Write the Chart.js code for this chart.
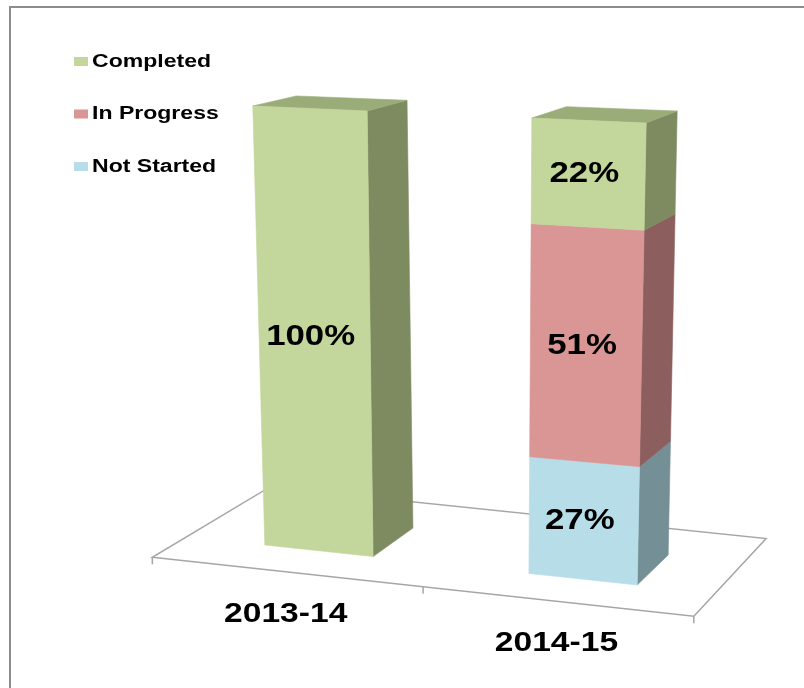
<!DOCTYPE html>
<html>
<head>
<meta charset="utf-8">
<title>Status by year</title>
<script src="https://cdn.jsdelivr.net/npm/chart.js@4.4.1/dist/chart.umd.min.js"></script>
<style>
    html, body { margin: 0; padding: 0; background: #fff; }
    #wrap { position: relative; width: 804px; height: 688px; }
</style>
</head>
<body>
<div id="wrap"><canvas id="myChart"></canvas></div>
<script>
/* data
 -----------------------------------------------*/
const categories = ['2013-14', '2014-15'];
const completed = [100, 22];
const inProgress = [0, 51];
const notStarted = [0, 27];

/* colours: front / side / top face of each box
 -----------------------------------------------*/
const faces = {
    'Completed':   ['#c3d69b', '#7e8b61', '#9aad78'],
    'In Progress': ['#d99694', '#8c5f5e', '#aa7776'],
    'Not Started': ['#b7dee8', '#758f96', '#8fb0b8']
};
const textStretch = 1.2;   // the original text is a little wide
const clear = 'rgba(0,0,0,0)';

// map a point of the flat chart (px, py) and a depth w (0 front, 1 back) to the slanted 3d view
function project(chart, px, py, w) {
    let area = chart.chartArea;
    let yScale = chart.scales.y;
    let yTop = yScale.getPixelForValue(yScale.max);
    let yBot = yScale.getPixelForValue(yScale.min);
    let s = (px - area.left) / area.width;
    let t = (py - yTop) / (yBot - yTop);
    t = t + 0.07 * t * (1 - t);

    let topX = 170.5 + 558 * s, topY = 102.4 + 24.2 * s;
    let botX = 186.9 + 528.2 * s, botY = 536.6 + 56.8 * s;
    let fx = topX + (botX - topX) * t;
    let fy = topY + (botY - topY) * t;
    let dx = 46.1 - 17.75 * s;
    let dy = -9.6 - 18 * t - 2.84 * s;
    return [fx + w * dx, fy + w * dy];
}

function quad(ctx, pts, color) {
    ctx.beginPath();
    ctx.moveTo(pts[0][0], pts[0][1]);
    for (let i = 1; i < pts.length; i++) {
        ctx.lineTo(pts[i][0], pts[i][1]);
    }
    ctx.closePath();
    ctx.fillStyle = color;
    ctx.fill();
    ctx.strokeStyle = color;
    ctx.lineWidth = 0.6;
    ctx.stroke();
}

function wideText(ctx, text, x, y, sx) {
    ctx.save();
    ctx.translate(x, y);
    ctx.scale(sx, 1);
    ctx.fillText(text, 0, 0);
    ctx.restore();
}

const box3d = {
    id: 'box3d',
    beforeDraw(chart) {
        let ctx = chart.ctx;
        ctx.save();
        // outer frame of the chart
        ctx.strokeStyle = '#8c8c8c';
        ctx.lineWidth = 2;
        ctx.strokeRect(10, 7, 900, 900);
        ctx.restore();
    },
    afterDatasetsDraw(chart) {
        let ctx = chart.ctx;
        let area = chart.chartArea;
        let xScale = chart.scales.x;
        let yBot = chart.scales.y.getPixelForValue(0);
        let wFront = -0.75, wBack = 1.8;

        ctx.save();

        // floor
        let f1 = project(chart, area.left, yBot, wFront);
        let f2 = project(chart, area.right, yBot, wFront);
        let f3 = project(chart, area.right, yBot, wBack);
        let f4 = project(chart, area.left, yBot, wBack);
        ctx.strokeStyle = '#a6a6a6';
        ctx.lineWidth = 1.5;
        ctx.beginPath();
        ctx.moveTo(f1[0], f1[1]);
        ctx.lineTo(f2[0], f2[1]);
        ctx.lineTo(f3[0], f3[1]);
        ctx.lineTo(f4[0], f4[1]);
        ctx.closePath();
        ctx.stroke();

        // ticks between the categories
        let mid = (xScale.getPixelForValue(0) + xScale.getPixelForValue(1)) / 2;
        [area.left, mid, area.right].forEach(function (px) {
            let p = project(chart, px, yBot, wFront);
            ctx.beginPath();
            ctx.moveTo(p[0], p[1]);
            ctx.lineTo(p[0], p[1] + 7);
            ctx.stroke();
        });

        // boxes, bottom segment first
        let sets = chart.data.datasets;
        for (let j = 0; j < categories.length; j++) {
            let topIdx = -1;
            for (let i = 0; i < sets.length; i++) {
                if (sets[i].data[j] > 0) topIdx = i;
            }
            for (let i = 0; i < sets.length; i++) {
                if (!(sets[i].data[j] > 0)) continue;
                let el = chart.getDatasetMeta(i).data[j];
                let l = el.x - el.width / 2, r = el.x + el.width / 2;
                let top = el.y, bot = el.base;
                let col = faces[sets[i].label];

                quad(ctx, [project(chart, r, top, 0), project(chart, r, top, 1),
                    project(chart, r, bot, 1), project(chart, r, bot, 0)], col[1]);
                if (i === topIdx) {
                    quad(ctx, [project(chart, l, top, 0), project(chart, r, top, 0),
                        project(chart, r, top, 1), project(chart, l, top, 1)], col[2]);
                }
                quad(ctx, [project(chart, l, top, 0), project(chart, r, top, 0),
                    project(chart, r, bot, 0), project(chart, l, bot, 0)], col[0]);
            }
        }

        // value labels
        ctx.fillStyle = '#000';
        ctx.textAlign = 'center';
        ctx.textBaseline = 'middle';
        ctx.font = 'bold 29px "Liberation Sans", Arial, sans-serif';
        for (let i = 0; i < sets.length; i++) {
            for (let j = 0; j < categories.length; j++) {
                let v = sets[i].data[j];
                if (!(v > 0)) continue;
                let el = chart.getDatasetMeta(i).data[j];
                let p = project(chart, el.x, (el.y + el.base) / 2, 0);
                wideText(ctx, v + '%', p[0] - 4, p[1], textStretch);
            }
        }

        // category labels under the floor
        ctx.font = 'bold 28px "Liberation Sans", Arial, sans-serif';
        for (let j = 0; j < categories.length; j++) {
            let p = project(chart, xScale.getPixelForValue(j), yBot, wFront);
            wideText(ctx, xScale.getLabelForValue(j), p[0] - 2, p[1] + 42, textStretch);
        }

        // legend, top series first
        ctx.font = 'bold 18px "Liberation Sans", Arial, sans-serif';
        ctx.textAlign = 'left';
        let ly = 61;
        for (let i = sets.length - 1; i >= 0; i--) {
            ctx.fillStyle = faces[sets[i].label][0];
            ctx.fillRect(74, ly - 4, 14, 9);
            ctx.fillStyle = '#000';
            wideText(ctx, sets[i].label, 92, ly + 1, 1.28);
            ly += 52.5;
        }

        ctx.restore();
    }
};

let ctx = document.getElementById('myChart').getContext('2d');
let myChart = new Chart(ctx, {
    type: 'bar',
    data: {
        labels: categories,
        // the faces are painted by the box3d plugin, so the flat bars stay clear
        datasets: [{
            label: 'Not Started',
            data: notStarted,
            backgroundColor: clear,
            borderColor: clear
        }, {
            label: 'In Progress',
            data: inProgress,
            backgroundColor: clear,
            borderColor: clear
        }, {
            label: 'Completed',
            data: completed,
            backgroundColor: clear,
            borderColor: clear
        }]
    },
    options: {
        responsive: true,
        maintainAspectRatio: false,
        animation: false,
        datasets: {
            bar: {
                borderWidth: 0,
                categoryPercentage: 1,
                barPercentage: 0.41
            }
        },
        plugins: {
            colors: {enabled: false},
            legend: {display: false},
            tooltip: {enabled: false}
        },
        scales: {
            x: {display: false, stacked: true, offset: true},
            y: {display: false, stacked: true, min: 0, max: 100}
        }
    },
    plugins: [box3d]
});
</script>
</body>
</html>
